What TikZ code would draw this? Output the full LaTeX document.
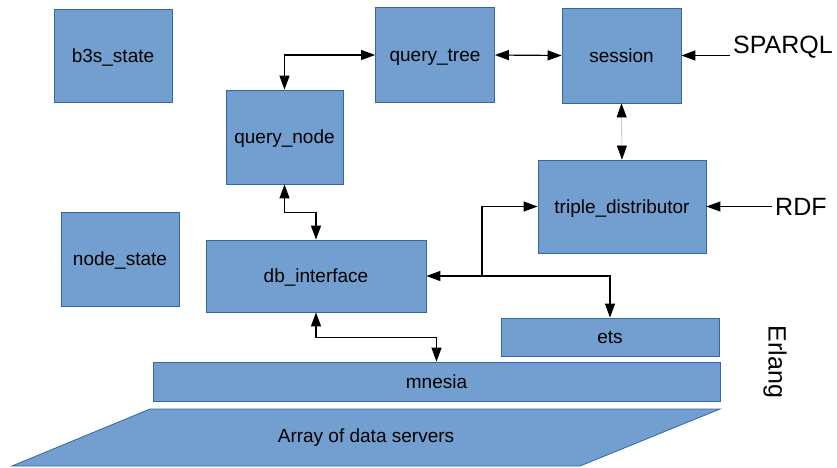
\documentclass[tikz,border=0pt]{standalone}
\usepackage{fontspec}
\setmainfont{Liberation Sans}
\usetikzlibrary{arrows.meta}
\definecolor{boxfill}{HTML}{729FCF}
\definecolor{boxline}{HTML}{3465A4}

\begin{document}
\begin{tikzpicture}[x=1pt,y=-1pt,
    box/.style={draw=boxline,fill=boxfill,line width=0.8pt,inner sep=0pt,text height=17pt,text depth=4pt,font=\fontsize{19}{22}\selectfont},
    link/.style={{Triangle[length=14pt,width=10pt,color=black]}-{Triangle[length=14pt,width=10pt,color=black]},line width=1.2pt},
    to/.style={-{Triangle[length=14pt,width=10pt,color=black]},line width=1.2pt},
    side/.style={font=\fontsize{25}{28}\selectfont,inner sep=3pt}]
     \useasboundingbox (0,0) rectangle (837,467);

     \node[box,minimum width=118,minimum height=93] (b3s)   at (113,55.5)  {b3s\_state};
     \node[box,minimum width=119,minimum height=95] (qtree) at (435,55)    {query\_tree};
     \node[box,minimum width=119,minimum height=95] (sess)  at (621.5,55.5) {session};
     \node[box,minimum width=117,minimum height=94] (qnode) at (284.5,137) {query\_node};
     \node[box,minimum width=168,minimum height=93] (tdist) at (622,206.5) {triple\_distributor};
     \node[box,minimum width=118,minimum height=94] (nstate) at (120,259)  {node\_state};
     \node[box,minimum width=220,minimum height=72] (dbi)   at (316,276)   {db\_interface};
     \node[box,minimum width=218,minimum height=38] (ets)   at (610,337)   {ets};
     \node[box,minimum width=567,minimum height=39] (mnesia) at (436.5,381.5) {mnesia};

     \coordinate (AA) at (150,409);
     \coordinate (AB) at (720,409);
     \coordinate (AC) at (580,466);
     \coordinate (AD) at (12,466);
     \draw[draw=boxline,fill=boxfill,line width=0.8pt] (AA) -- (AB) -- (AC) -- (AD) -- cycle;
     \node[font=\fontsize{19}{22}\selectfont] (servers) at (366,437.5) {Array of data servers};

     \node[side,anchor=west] (sparql) at (730,47) {SPARQL};
     \node[side,anchor=west] (rdf) at (772,207) {RDF};
     \node[side,rotate=-90] (erlang) at (775,362) {Erlang};

     \coordinate (split) at (482,276);

     \draw[link] (qtree.west) -| (qnode.north);
     \draw[link] (qtree.east) -- (sess.west);
     \draw[link,draw=black!30,line width=0.6pt] (sess.south) -- (tdist.north);
     \draw[link] (qnode.south) -- ++(0,28) -| (dbi.north);
     \draw[link] (dbi.east) -- (split) |- (tdist.west);
     \draw[to] (split) -| (ets.north);
     \draw[link] (dbi.south) -- ++(0,25) -| (mnesia.north);
     \draw[to] (sparql.west |- sess.east) -- (sess.east);
     \draw[to] (rdf.west |- tdist.east) -- (tdist.east);

  \end{tikzpicture}
\end{document}
